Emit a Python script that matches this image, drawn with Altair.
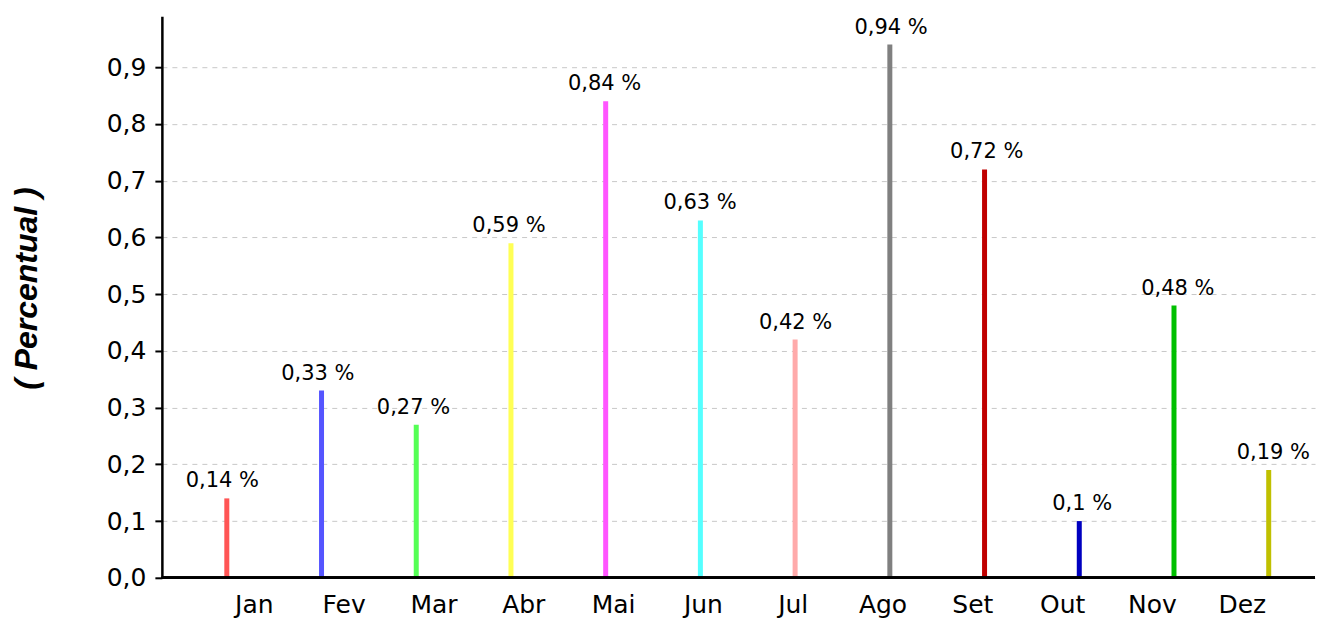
import altair as alt
import pandas as pd

months = ["Jan", "Fev", "Mar", "Abr", "Mai", "Jun", "Jul", "Ago", "Set", "Out", "Nov", "Dez"]
values = [0.14, 0.33, 0.27, 0.59, 0.84, 0.63, 0.42, 0.94, 0.72, 0.10, 0.48, 0.19]
colors = ["#ff5555", "#5555ff", "#55ff55", "#ffff55", "#ff55ff", "#55ffff",
          "#ffaaaa", "#808080", "#c00000", "#0000c0", "#00c000", "#c0c000"]
y_ticks = [0.0, 0.1, 0.2, 0.3, 0.4, 0.5, 0.6, 0.7, 0.8, 0.9]

df = pd.DataFrame({"mes": months, "valor": values, "idx": list(range(len(months)))})

W, H = 1154, 562

xq = alt.X("idx:Q", scale=alt.Scale(domain=[-0.6327, 11.436], nice=False, zero=False), axis=None)
yq = alt.Y(
    "valor:Q",
    scale=alt.Scale(domain=[0, 0.99], nice=False),
    axis=alt.Axis(
        title="( Percentual )",
        values=y_ticks,
        labelExpr="replace(format(datum.value, '.1f'), '.', ',')",
        domainColor="black", domainWidth=2.5,
        tickColor="black", tickWidth=2, tickSize=7,
        labelFont="DejaVu Sans", labelFontSize=25, labelColor="black", labelPadding=9,
        grid=True, gridColor="#c8c8c8", gridDash=[5, 5], gridWidth=1,
        titleFont="Liberation Sans", titleFontSize=32, titleFontWeight="bold",
        titleFontStyle="italic", titleColor="black", titlePadding=63,
        titleY=272,
    ),
)

base = alt.Chart(df)

bars = base.mark_bar(size=5).encode(
    x=xq,
    y=yq,
    color=alt.Color("mes:N", scale=alt.Scale(domain=months, range=colors), legend=None),
)

zero_line = base.mark_rule(color="black", strokeWidth=2).encode(y=alt.datum(0))

labels = base.transform_calculate(
    lbl="replace(format(datum.valor, '.2~f'), '.', ',') + ' %'"
).mark_text(dy=-7, baseline="bottom", fontSize=21, font="DejaVu Sans", color="black").encode(
    x=xq, y=alt.Y("valor:Q"), text="lbl:N"
)

month_axis = base.mark_point(opacity=0).encode(
    x=alt.X(
        "mes:N",
        sort=months,
        scale=alt.Scale(type="point", range=[92, 1080.7], padding=0),
        axis=alt.Axis(
            title=None, orient="bottom", labelAngle=0, ticks=False, domain=False, grid=False,
            labelFont="DejaVu Sans", labelFontSize=25, labelColor="black", labelPadding=15,
        ),
    )
)

chart = (
    alt.layer(bars, zero_line, labels, month_axis)
    .resolve_scale(x="independent")
    .properties(width=W, height=H, padding={"left": 2, "top": 8, "right": 2, "bottom": 5})
    .configure_view(strokeWidth=0)
)

chart.save("out.html", embed_options={"renderer": "svg", "actions": False})
